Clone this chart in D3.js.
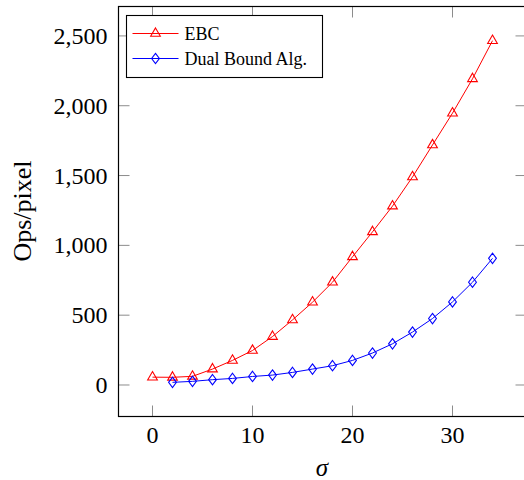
<!DOCTYPE html>
<html>
<head>
<meta charset="utf-8">
<script src="https://cdn.jsdelivr.net/npm/d3@7"></script>
<style>
  html, body { margin: 0; padding: 0; background: #fff; }
</style>
</head>
<body>
<svg id="chart" width="524" height="480"></svg>
<script>
const sigmaEbc = [0, 2, 4, 6, 8, 10, 12, 14, 16, 18, 20, 22, 24, 26, 28, 30, 32, 34]
const opsEbc = [56, 55, 62, 114, 176, 247, 347, 466, 593, 736, 918, 1097, 1281, 1490, 1719, 1947, 2193, 2466]

const sigmaDual = [2, 4, 6, 8, 10, 12, 14, 16, 18, 20, 22, 24, 26, 28, 30, 32, 34]
const opsDual = [19, 26, 38, 47, 61, 71, 90, 114, 138, 176, 229, 295, 379, 476, 595, 736, 907]

const xTicks = [0, 10, 20, 30]
const yTicks = [0, 500, 1000, 1500, 2000, 2500]

const seriesNames = ['EBC', 'Dual Bound Alg.']
const seriesColors = ['#ff0000', '#0000ff']

const serif = 'Liberation Serif'

const svg = d3.select('#chart')
const plot = { left: 118.5, right: 526.5, top: 6.5, bottom: 416.5 }

// pgfplots style: enlarge limits by 10% on each side
function enlarged (values) {
  const [lo, hi] = d3.extent(values)
  const pad = (hi - lo) * 0.1
  return [lo - pad, hi + pad]
}

const x = d3.scaleLinear()
  .domain(enlarged(sigmaEbc.concat(sigmaDual)))
  .range([plot.left, plot.right])

const y = d3.scaleLinear()
  .domain(enlarged(opsEbc.concat(opsDual)))
  .range([plot.bottom, plot.top])

const series = [
  { name: seriesNames[0], color: seriesColors[0], mark: 'triangle', points: sigmaEbc.map((s, i) => [s, opsEbc[i]]) },
  { name: seriesNames[1], color: seriesColors[1], mark: 'diamond', points: sigmaDual.map((s, i) => [s, opsDual[i]]) }
]

const tickLen = 11
const tickColor = '#8c8c8c'

// ticks on all four sides, pointing inwards
const axes = svg.append('g').attr('class', 'axes')

axes.selectAll('line.xtick-bottom')
  .data(xTicks)
  .enter()
  .append('line')
  .attr('x1', d => x(d)).attr('x2', d => x(d))
  .attr('y1', plot.bottom).attr('y2', plot.bottom - tickLen)
  .attr('stroke', tickColor)

axes.selectAll('line.xtick-top')
  .data(xTicks)
  .enter()
  .append('line')
  .attr('x1', d => x(d)).attr('x2', d => x(d))
  .attr('y1', plot.top).attr('y2', plot.top + tickLen)
  .attr('stroke', tickColor)

axes.selectAll('line.ytick-left')
  .data(yTicks)
  .enter()
  .append('line')
  .attr('x1', plot.left).attr('x2', plot.left + tickLen)
  .attr('y1', d => y(d)).attr('y2', d => y(d))
  .attr('stroke', tickColor)

axes.selectAll('line.ytick-right')
  .data(yTicks)
  .enter()
  .append('line')
  .attr('x1', plot.right).attr('x2', plot.right - tickLen)
  .attr('y1', d => y(d)).attr('y2', d => y(d))
  .attr('stroke', tickColor)

axes.append('rect')
  .attr('x', plot.left)
  .attr('y', plot.top)
  .attr('width', plot.right - plot.left)
  .attr('height', plot.bottom - plot.top)
  .attr('fill', 'none')
  .attr('stroke', '#000')
  .attr('stroke-width', 1.2)

const fmt = d3.format(',')

axes.selectAll('text.xlabel')
  .data(xTicks)
  .enter()
  .append('text')
  .attr('x', d => x(d))
  .attr('y', 443)
  .attr('text-anchor', 'middle')
  .attr('font-family', serif)
  .attr('font-size', 24)
  .text(d => d)

axes.selectAll('text.ylabel')
  .data(yTicks)
  .enter()
  .append('text')
  .attr('x', plot.left - 11)
  .attr('y', d => y(d) + 8)
  .attr('text-anchor', 'end')
  .attr('font-family', serif)
  .attr('font-size', 24)
  .text(d => fmt(d))

svg.append('text')
  .attr('transform', 'translate(31,211) rotate(-90)')
  .attr('text-anchor', 'middle')
  .attr('font-family', serif)
  .attr('font-size', 26)
  .text('Ops/pixel')

svg.append('text')
  .attr('x', 322)
  .attr('y', 476)
  .attr('text-anchor', 'middle')
  .attr('font-family', serif)
  .attr('font-size', 25)
  .attr('font-style', 'italic')
  .text('σ')

function markPath (type) {
  if (type === 'triangle') {
    const r = 5.6
    return `M0,${-r}L${0.866 * r},${0.5 * r}L${-0.866 * r},${0.5 * r}Z`
  }
  return 'M0,-5.2L3.9,0L0,5.2L-3.9,0Z'
}

const line = d3.line()
  .x(d => x(d[0]))
  .y(d => y(d[1]))

const groups = svg.selectAll('g.series')
  .data(series)
  .enter()
  .append('g')
  .attr('class', 'series')

groups.append('path')
  .attr('d', d => line(d.points))
  .attr('fill', 'none')
  .attr('stroke', d => d.color)
  .attr('stroke-width', 1)

groups.each(function (s) {
  d3.select(this)
    .selectAll('path.mark')
    .data(s.points)
    .enter()
    .append('path')
    .attr('class', 'mark')
    .attr('transform', d => `translate(${x(d[0])},${y(d[1])})`)
    .attr('d', markPath(s.mark))
    .attr('fill', 'none')
    .attr('stroke', s.color)
    .attr('stroke-width', 1.1)
})

// legend, top left
const legend = svg.append('g').attr('transform', 'translate(126.5,15.5)')

legend.append('rect')
  .attr('width', 196)
  .attr('height', 62)
  .attr('fill', '#fff')
  .attr('stroke', '#000')
  .attr('stroke-width', 1.1)

const rows = legend.selectAll('g.row')
  .data(series)
  .enter()
  .append('g')
  .attr('class', 'row')
  .attr('transform', (d, i) => `translate(0,${18 + i * 25})`)

rows.append('line')
  .attr('x1', 6).attr('x2', 52)
  .attr('stroke', d => d.color)
  .attr('stroke-width', 1)

rows.append('path')
  .attr('transform', 'translate(29,0)')
  .attr('d', d => markPath(d.mark))
  .attr('fill', 'none')
  .attr('stroke', d => d.color)
  .attr('stroke-width', 1.1)

rows.append('text')
  .attr('x', 58)
  .attr('y', 6)
  .attr('font-family', serif)
  .attr('font-size', 18)
  .text(d => d.name)
</script>
</body>
</html>
